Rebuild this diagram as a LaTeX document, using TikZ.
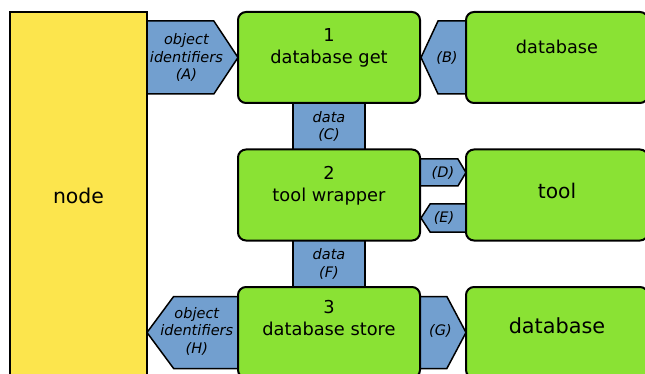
\documentclass[tikz,border=0pt]{standalone}
\usepackage{fontspec}
\setmainfont{DejaVu Sans}
\usetikzlibrary{shapes.symbols,backgrounds,positioning}
\definecolor{nodeyellow}{HTML}{FCE54D}
\definecolor{boxgreen}{HTML}{8AE234}
\definecolor{flowblue}{HTML}{729FCF}
\tikzset{
  box/.style={draw=black, line width=2pt, fill=boxgreen, rounded corners=8pt,
    minimum width=182pt, minimum height=91pt, align=center, outer sep=0pt,
    font=\fontsize{17.8}{22}\selectfont},
  flow/.style={shape=signal, draw=black, line width=1.5pt, fill=flowblue,
    align=center, inner sep=0pt, outer sep=0pt,
    font=\fontsize{14.5}{17.5}\selectfont\itshape},
  flowtext/.style={align=center, inner sep=0pt,
    font=\fontsize{14.5}{17.5}\selectfont\itshape},
}

\begin{document}
\begin{tikzpicture}[x=1pt, y=-1pt]
    \useasboundingbox (0,0) rectangle (645,374);
    \clip (0,0) rectangle (645,374);

    % the calling node
    \node[draw=black, line width=2pt, fill=nodeyellow, minimum width=137pt,
      minimum height=368pt, outer sep=0pt, font=\fontsize{20.4}{24}\selectfont]
      (node) at (78.5,196) {node};

    % the three steps
    \node[box] (get) at (329,57.5) {1\\database get\\\mbox{}};
    \node[box] (wrap) at (329,195) {2\\tool wrapper\\\mbox{}};
    \node[box] (store) at (329,332.5) {3\\database store\\[8pt]\mbox{}};

    % the outside parts
    \node[box, font=\fontsize{17.7}{21}\selectfont] (dbin) at (557,57.5) {database\\\mbox{}};
    \node[box, font=\fontsize{20.2}{24}\selectfont] (tool) at (557,195) {tool\\[-16pt]\mbox{}};
    \node[box, font=\fontsize{20.8}{25}\selectfont] (dbout) at (557,332.5) {database\\[-11pt]\mbox{}};

    % what flows between them
    \begin{scope}[on background layer]
    \node[flow, signal to=east, signal pointer angle=113, minimum width=91pt,
      minimum height=73pt, anchor=west,
      label={[flowtext, xshift=6pt]center:object\\identifiers\\(A)}]
      (idsA) at (node.east |- get.center) {};
    \node[flow, signal to=west, signal pointer angle=130, minimum width=45pt,
      minimum height=73pt, anchor=east,
      label={[flowtext, xshift=-5pt]center:(B)}] (inB) at (dbin.west) {};
    \node[flow, shape=rectangle, minimum width=72pt, minimum height=47pt,
      below=0pt of get] (dataC) {data\\(C)};
    \node[flow, signal to=east, signal pointer angle=118, minimum width=46pt,
      minimum height=27pt, anchor=west,
      label={[flowtext, xshift=4pt]center:(D)}] (toD) at ([yshift=22.5pt]wrap.east) {};
    \node[flow, signal to=west, signal pointer angle=114, minimum width=45pt,
      minimum height=28pt, anchor=east,
      label={[flowtext, xshift=-4pt]center:(E)}] (fromE) at ([yshift=-23pt]tool.west) {};
    \node[flow, shape=rectangle, minimum width=72pt, minimum height=47pt,
      below=0pt of wrap] (dataF) {data\\(F)};
    \node[flow, signal to=east, signal pointer angle=124, minimum width=46pt,
      minimum height=72pt, anchor=west,
      label={[flowtext, xshift=7pt, yshift=1.5pt]center:(G)}] (outG) at (store.east) {};
    \node[flow, signal to=west, signal pointer angle=107, minimum width=91pt,
      minimum height=72pt, anchor=east,
      label={[flowtext, xshift=-9pt, yshift=1.5pt]center:object\\identifiers\\(H)}]
      (idsH) at (store.west) {};
    \end{scope}
\end{tikzpicture}
\end{document}
